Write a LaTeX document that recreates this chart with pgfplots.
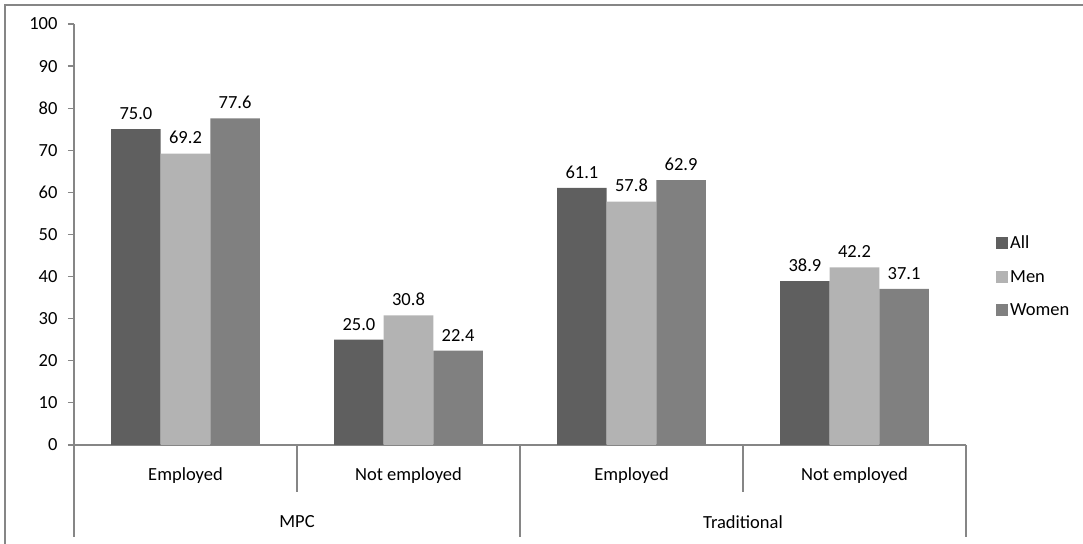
\documentclass[border=0pt]{standalone}
\usepackage{fontspec}
\setmainfont{Carlito}
\usepackage{pgfplots}
\pgfplotsset{compat=1.18}
\definecolor{cAll}{HTML}{5F5F5F}
\definecolor{cMen}{HTML}{B3B3B3}
\definecolor{cWomen}{HTML}{808080}
\definecolor{axgray}{HTML}{868686}
\newcommand{\chf}{\fontsize{18.5bp}{22bp}\selectfont}
\begin{document}
\begin{tikzpicture}[x=1bp,y=1bp]
\begin{axis}[
  at={(0,0)}, anchor=south west,
  scale only axis, width=892bp, height=421bp,
  xmin=-0.5, xmax=3.5, ymin=0, ymax=100,
  axis lines=left, axis line style={-, draw=axgray, line width=1.2bp},
  ybar=0pt, bar width=49.6bp,
  ytick={0,10,...,100},
  xtick={0,1,2,3},
  xticklabels={Employed, Not employed, Employed, Not employed},
  tick align=outside, major tick length=6bp,
  ytick style={draw=axgray, line width=1.2bp},
  xtick style={draw=none},
  /pgf/number format/assume math mode=true,
  tick label style={font=\chf, black},
  yticklabel style={xshift=-7bp},
  xticklabel style={anchor=center, yshift=-25bp},
  clip=false,
  nodes near coords={\pgfmathprintnumber[fixed,fixed zerofill,precision=1]{\pgfplotspointmeta}},
  every node near coord/.append style={font=\chf, black, yshift=6bp},
  legend style={draw=none, fill=none, at={(1,0.40)}, anchor=west, xshift=30bp,
    font=\chf, row sep=16bp, inner sep=0pt},
  legend cell align=left,
  legend image code/.code={\fill[#1] (0bp,-6bp) rectangle (12bp,6bp);},
]
\addplot[fill=cAll, draw=none] coordinates {(0,75.0) (1,25.0) (2,61.1) (3,38.9)};
\addplot[fill=cMen, draw=none] coordinates {(0,69.2) (1,30.8) (2,57.8) (3,42.2)};
\addplot[fill=cWomen, draw=none] coordinates {(0,77.6) (1,22.4) (2,62.9) (3,37.1)};
\legend{All, Men, Women}
\end{axis}
\begin{scope}[draw=axgray, line width=1.2bp]
\draw (0,0) -- (0,-92);
\draw (223,0) -- (223,-47);
\draw (446,0) -- (446,-92);
\draw (669,0) -- (669,-47);
\draw (892,0) -- (892,-92);
\draw (-69,-99) -- (-69,440) -- (1009,440);
\end{scope}
\node[font=\chf] at (223,-77) {MPC};
\node[font=\chf] at (669,-77) {Traditional};
\pgfresetboundingbox
\path[use as bounding box] (-74,-99) rectangle (1009,445);
\end{tikzpicture}
\end{document}
